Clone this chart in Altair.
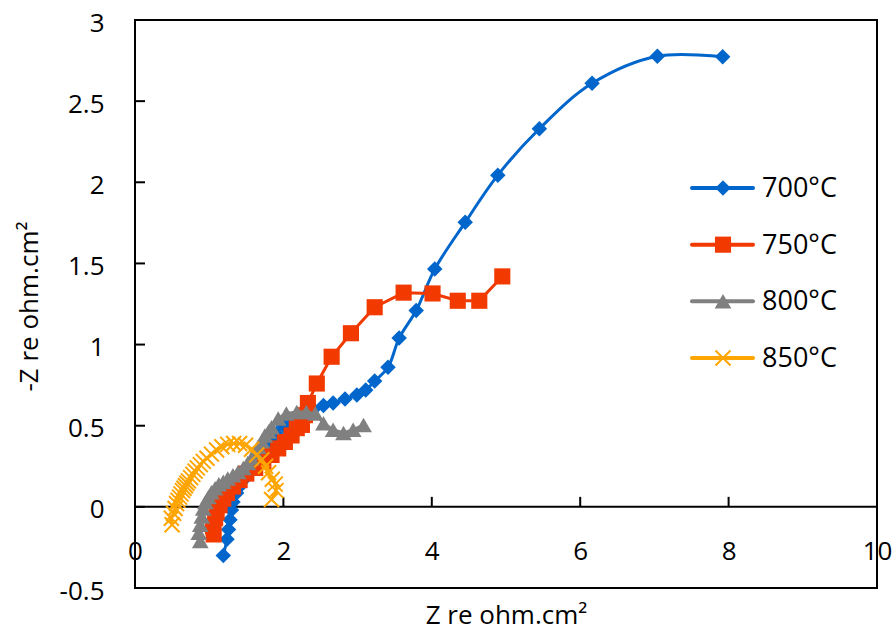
import altair as alt
import pandas as pd

series = ["700°C", "750°C", "800°C", "850°C"]
colors = ["#0066CC", "#F23A00", "#808080", "#FFA500"]
x_ticks = [0, 2, 4, 6, 8, 10]
y_ticks = [-0.5, 0, 0.5, 1, 1.5, 2, 2.5, 3]

x700 = [1.19, 1.24, 1.26, 1.28, 1.30, 1.32, 1.37, 1.41, 1.47, 1.55, 1.63, 1.71, 1.78, 1.84,
        1.90, 2.00, 2.12, 2.25, 2.40, 2.54, 2.67, 2.83, 2.99, 3.11, 3.23, 3.41, 3.56, 3.79,
        4.04, 4.45, 4.89, 5.45, 6.16, 7.04, 7.92]
y700 = [-0.30, -0.20, -0.14, -0.08, -0.02, 0.03, 0.085, 0.125, 0.17, 0.22, 0.27, 0.32, 0.36, 0.40,
        0.45, 0.50, 0.54, 0.57, 0.60, 0.625, 0.64, 0.665, 0.69, 0.72, 0.775, 0.86, 1.04, 1.21,
        1.465, 1.753, 2.044, 2.33, 2.61, 2.777, 2.773]

x750 = [1.06, 1.05, 1.08, 1.10, 1.14, 1.19, 1.24, 1.32, 1.41, 1.50, 1.62, 1.73, 1.84, 1.93,
        2.02, 2.11, 2.18, 2.25, 2.29, 2.33, 2.45, 2.65, 2.91, 3.23, 3.62, 4.01, 4.35, 4.64, 4.95]
y750 = [-0.17, -0.12, -0.07, -0.03, 0.01, 0.05, 0.085, 0.125, 0.165, 0.205, 0.24, 0.28, 0.32, 0.36,
        0.40, 0.44, 0.485, 0.505, 0.565, 0.64, 0.76, 0.925, 1.07, 1.23, 1.32, 1.315, 1.27, 1.27, 1.42]

x800 = [0.88, 0.86, 0.88, 0.90, 0.92, 0.95, 0.99, 1.03, 1.08, 1.13, 1.19, 1.25, 1.32, 1.39,
        1.46, 1.52, 1.57, 1.62, 1.66, 1.71, 1.75, 1.80, 1.84, 1.93, 2.04, 2.18, 2.31, 2.43,
        2.54, 2.67, 2.81, 2.94, 3.08]
y800 = [-0.21, -0.16, -0.11, -0.06, -0.01, 0.03, 0.06, 0.09, 0.115, 0.14, 0.155, 0.175, 0.195, 0.215,
        0.24, 0.27, 0.30, 0.335, 0.37, 0.405, 0.44, 0.465, 0.49, 0.545, 0.575, 0.585, 0.585, 0.575,
        0.515, 0.475, 0.455, 0.475, 0.505]

x850 = [0.50, 0.49, 0.52, 0.54, 0.56, 0.58, 0.60, 0.62, 0.64, 0.66, 0.68, 0.70, 0.72, 0.75,
        0.78, 0.81, 0.84, 0.88, 0.92, 0.97, 1.03, 1.10, 1.17, 1.25, 1.33, 1.41, 1.49, 1.57,
        1.64, 1.71, 1.76, 1.80, 1.85, 1.89, 1.90, 1.84]
y850 = [-0.11, -0.07, -0.04, -0.01, 0.02, 0.04, 0.06, 0.08, 0.10, 0.115, 0.13, 0.145, 0.16, 0.18,
        0.20, 0.22, 0.24, 0.26, 0.28, 0.30, 0.325, 0.35, 0.37, 0.385, 0.39, 0.39, 0.38, 0.355,
        0.32, 0.29, 0.25, 0.21, 0.17, 0.14, 0.10, 0.045]

xs = [x700, x750, x800, x850]
ys = [y700, y750, y800, y850]
rows = []
for name, sx, sy in zip(series, xs, ys):
    for i, (a, b) in enumerate(zip(sx, sy)):
        rows.append({"series": name, "x": a, "y": b, "i": i})
df = pd.DataFrame(rows)

FONT = "Open Sans"
W, H = 742, 568

shapes = ["diamond", "square", "triangle-up", "M-1,-1L1,1M-1,1L1,-1"]
filled = [True, True, True, False]
sizes = [240, 260, 280, 225]
interps = ["catmull-rom", "linear", "linear", "catmull-rom"]

xscale = alt.Scale(domain=[0, 10], nice=False, zero=False)
yscale = alt.Scale(domain=[-0.5, 3], nice=False, zero=False)
xaxis = alt.Axis(values=x_ticks, title="Z re ohm.cm²", grid=False, domain=False, ticks=False,
                 tickSize=0, labelPadding=-29, labelBaseline="alphabetic", labelFontSize=26,
                 labelFont=FONT, labelColor="black", labelFlush=False, labelOverlap=False,
                 labelExpr="toString(datum.value)",
                 titleFontSize=26, titleFont=FONT, titleFontWeight="normal", titleColor="black",
                 titleBaseline="alphabetic", titleY=35, titleX=W / 2)
yaxis = alt.Axis(values=y_ticks, title="-Z re ohm.cm²", grid=False, domain=False, ticks=False,
                 tickSize=0, labelPadding=31, labelOffset=3, labelFontSize=26, labelFont=FONT,
                 labelColor="black", labelOverlap=False, labelExpr="toString(datum.value)",
                 titleFontSize=26, titleFont=FONT, titleFontWeight="normal", titleColor="black",
                 titleAngle=-90, titleBaseline="alphabetic", titleAlign="center",
                 titleX=-98, titleY=286)


def X(field="x:Q"):
    return alt.X(field, scale=xscale, axis=xaxis)


def Y(field="y:Q"):
    return alt.Y(field, scale=yscale, axis=yaxis)


main_layers = []
# zero line (x axis crossing at y = 0)
main_layers.append(
    alt.Chart(pd.DataFrame({"v": [0]})).mark_rule(color="black", strokeWidth=2).encode(
        x=alt.XDatum(0, scale=xscale, axis=xaxis),
        x2=alt.datum(10),
        y=alt.YDatum(0, scale=yscale, axis=yaxis),
    )
)
# inward ticks on x axis line
main_layers.append(
    alt.Chart(pd.DataFrame({"v": x_ticks})).mark_tick(
        orient="vertical", size=10, thickness=2, color="black", yOffset=-5, opacity=1
    ).encode(x=X("v:Q"), y=alt.YDatum(0, scale=yscale, axis=yaxis))
)
# inward ticks on y axis
main_layers.append(
    alt.Chart(pd.DataFrame({"v": y_ticks})).mark_tick(
        orient="horizontal", size=10, thickness=2, color="black", xOffset=5, opacity=1
    ).encode(x=alt.XDatum(0, scale=xscale, axis=xaxis), y=Y("v:Q"))
)

for k, name in enumerate(series):
    base = alt.Chart(df).transform_filter(alt.datum.series == name)
    main_layers.append(
        base.mark_line(color=colors[k], strokeWidth=3, interpolate=interps[k]).encode(
            x=X(), y=Y(), order="i:Q"
        )
    )
    main_layers.append(
        base.mark_point(shape=shapes[k], filled=filled[k], size=sizes[k], color=colors[k],
                        opacity=1, strokeWidth=2).encode(x=X(), y=Y())
    )

main = alt.layer(*main_layers)

leg_df = pd.DataFrame({"series": series, "color": colors})
ly = alt.Y("series:N", scale=alt.Scale(type="point", domain=series, range=[168, 338], padding=0),
           axis=None)
legend_layers = [
    # plot-area frame
    alt.Chart(pd.DataFrame({"v": [0]})).mark_rect(
        filled=False, stroke="black", strokeWidth=2, opacity=1
    ).encode(x=alt.value(0), x2=alt.value(W), y=alt.value(0), y2=alt.value(H)),
    alt.Chart(leg_df).mark_rule(strokeWidth=4, strokeCap="round").encode(
        x=alt.value(557), x2=alt.value(618), y=ly,
        color=alt.Color("series:N", scale=alt.Scale(domain=series, range=colors), legend=None),
    ),
]
for k, name in enumerate(series):
    legend_layers.append(
        alt.Chart(leg_df).transform_filter(alt.datum.series == name).mark_point(
            shape=shapes[k], filled=filled[k], size=sizes[k], color=colors[k], opacity=1,
            strokeWidth=2
        ).encode(x=alt.value(588), y=ly)
    )
legend_layers.append(
    alt.Chart(leg_df).mark_text(align="left", baseline="middle", fontSize=27, font=FONT,
                                color="black", dy=1).encode(
        x=alt.value(627), y=ly, text="series:N"
    )
)
legend = alt.layer(*legend_layers)

chart = (
    alt.layer(main, legend)
    .resolve_scale(x="independent", y="independent", color="independent")
    .properties(
        width=W, height=H,
        autosize=alt.AutoSizeParams(type="none"),
        padding={"left": 135, "top": 20, "right": 19, "bottom": 42},
        background="white",
    )
    .configure_view(stroke="black", strokeWidth=2)
    .configure(font=FONT)
)

chart.save("out.html", embed_options={"renderer": "svg", "actions": False})
